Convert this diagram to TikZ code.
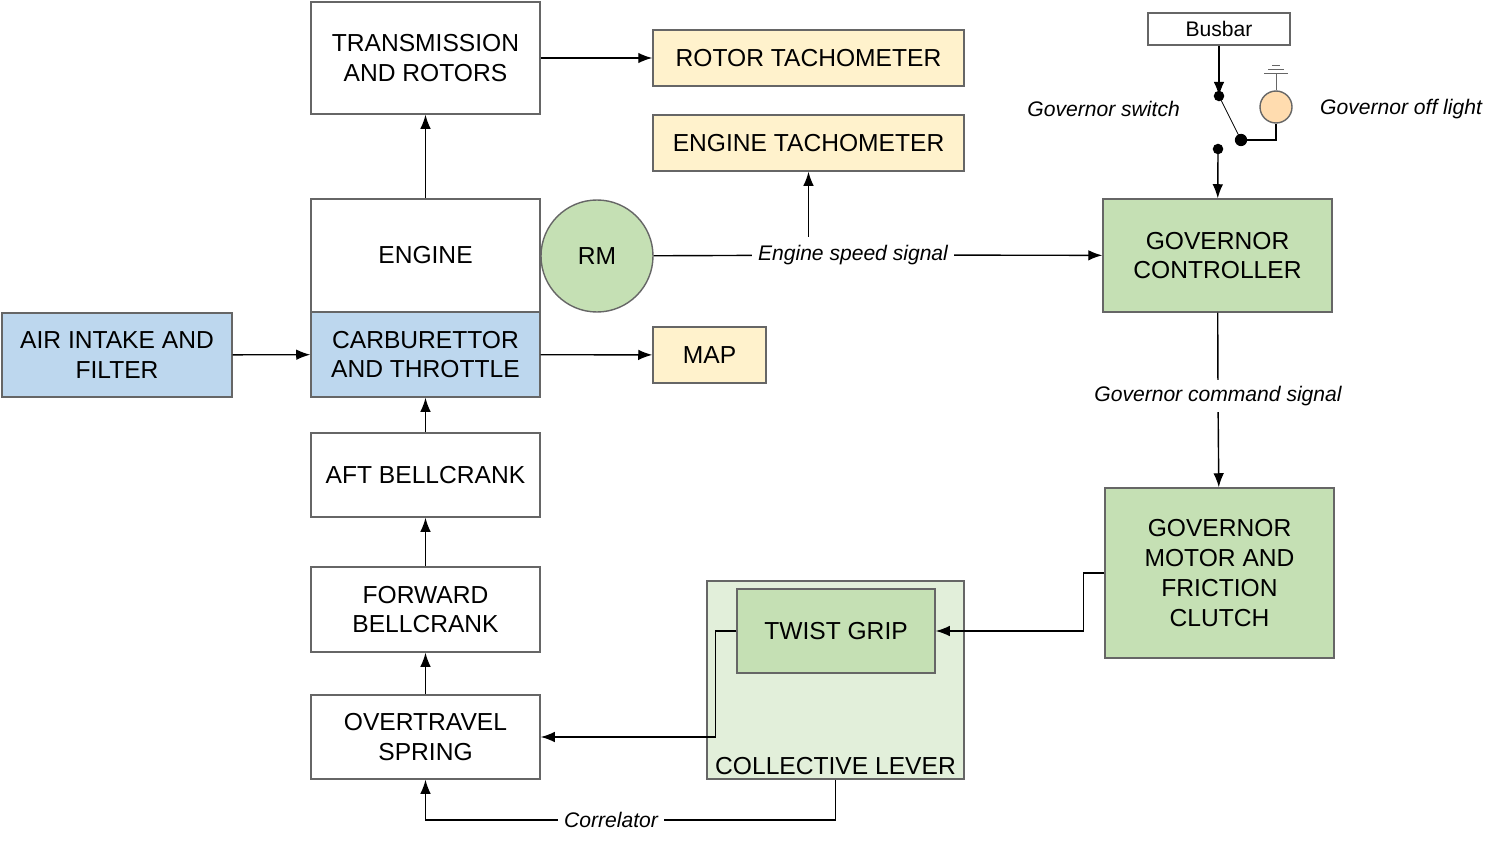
\documentclass[tikz,border=0pt]{standalone}
\usepackage{fontspec}
\setmainfont{Liberation Sans}
\usetikzlibrary{arrows.meta}
\begin{document}
\begin{tikzpicture}[x=0.02cm,y=-0.02cm,
    every node/.style={font=\fontsize{14}{17}\selectfont, align=center},
    box/.style={draw=black!60, thick, inner sep=0pt},
    sig/.style={font=\fontsize{12}{14}\selectfont\itshape},
    arr/.style={-{Latex[length=8pt,width=6pt]}, thick},
    ln/.style={thick}]

  % Define fill colours
  \definecolor{tachyel}{RGB}{255,242,204}
  \definecolor{govgreen}{RGB}{197,224,180}
  \definecolor{carbblue}{RGB}{189,215,238}
  \definecolor{levgreen}{RGB}{226,239,218}

  \useasboundingbox (0,0) rectangle (1494,851);

  % Engine column
  \node[box, minimum width=229*0.02cm, minimum height=112*0.02cm] (trans) at (425.5,58) {TRANSMISSION\\AND ROTORS};
  \node[box, minimum width=229*0.02cm, minimum height=113*0.02cm] (engine) at (425.5,255.5) {ENGINE};
  \node[box, fill=carbblue, minimum width=229*0.02cm, minimum height=85*0.02cm] (carb) at (425.5,354.5) {CARBURETTOR\\AND THROTTLE};
  \node[box, fill=carbblue, minimum width=230*0.02cm, minimum height=84*0.02cm] (air) at (117,355) {AIR INTAKE AND\\FILTER};
  \node[box, minimum width=229*0.02cm, minimum height=84*0.02cm] (aft) at (425.5,475) {AFT BELLCRANK};
  \node[box, minimum width=229*0.02cm, minimum height=85*0.02cm] (fwd) at (425.5,609.5) {FORWARD\\BELLCRANK};
  \node[box, minimum width=229*0.02cm, minimum height=84*0.02cm] (spring) at (425.5,737) {OVERTRAVEL\\SPRING};

  % Gauges
  \node[box, fill=tachyel, minimum width=311*0.02cm, minimum height=56*0.02cm] (rotortach) at (808.5,58) {ROTOR TACHOMETER};
  \node[box, fill=tachyel, minimum width=311*0.02cm, minimum height=56*0.02cm] (enginetach) at (808.5,143) {ENGINE TACHOMETER};
  \node[box, fill=tachyel, minimum width=113*0.02cm, minimum height=56*0.02cm] (map) at (709.5,355) {MAP};
  \node[box, circle, fill=govgreen, minimum size=112*0.02cm] (rm) at (597,256) {RM};

  % Collective lever
  \node[box, fill=levgreen, minimum width=257*0.02cm, minimum height=198*0.02cm] (lever) at (835.5,680) {};
  \node[anchor=south] (leverlabel) at (835.5,781) {COLLECTIVE LEVER};
  \node[box, fill=govgreen, minimum width=198*0.02cm, minimum height=84*0.02cm] (grip) at (836,631) {TWIST GRIP};

  % Governor
  \node[box, fill=govgreen, minimum width=229*0.02cm, minimum height=113*0.02cm] (govctrl) at (1217.5,255.5) {GOVERNOR\\CONTROLLER};
  \node[box, fill=govgreen, minimum width=229*0.02cm, minimum height=170*0.02cm] (govmotor) at (1219.5,573) {GOVERNOR\\MOTOR AND\\FRICTION\\CLUTCH};
  \node[box, minimum width=142*0.02cm, minimum height=32*0.02cm, font=\fontsize{12}{14}\selectfont] (busbar) at (1219,29) {Busbar};
  \node[box, circle, fill=tachyel!60!orange!60, minimum size=32*0.02cm] (lamp) at (1276,107) {};

  % Signal labels
  \node[sig] (speedsig) at (853,255) {Engine speed signal};
  \node[sig] (cmdsig) at (1218,396) {Governor command signal};
  \node[sig] (correlator) at (611,820) {Correlator};
  \node[sig, anchor=east] (swlabel) at (1186,109) {Governor switch};
  \node[sig, anchor=west] (lamplabel) at (1314,109) {Governor off light};

  % Switch points
  \coordinate (swin) at (1219,96);
  \coordinate (swout) at (1241,140);
  \coordinate (swlow) at (1218,149);
  \coordinate (gnd) at (1276,73);

  % Connectors
  \draw[arr] (trans) -- (rotortach);
  \draw[arr] (engine) -- (trans);
  \draw[arr] (air) -- (carb);
  \draw[arr] (carb) -- (map);
  \draw[arr] (aft) -- (carb);
  \draw[arr] (fwd) -- (aft);
  \draw[arr] (spring) -- (fwd);
  \draw[ln] (rm) -- (speedsig);
  \draw[arr] (speedsig.north -| enginetach) ++(0,-2) -- (enginetach);
  \draw[arr] (speedsig) -- (govctrl);
  \draw[ln] (govctrl) -- (cmdsig);
  \draw[arr] (cmdsig) -- (govmotor);
  \draw[arr] (govmotor.west) -- ++(-21,0) |- (grip.east);
  \draw[arr] (grip.west) -- ++(-21,0) |- (spring.east);
  \draw[ln] (lever.south) |- (correlator.east);
  \draw[arr] (correlator.west) -| (spring.south);

  % Governor switch and light
  \draw[arr] (busbar) -- (swin);
  \fill (swin) circle (3pt) (swout) circle (3.5pt) (swlow) circle (3pt);
  \draw (swin) -- (swout);
  \draw[ln] (swout) -| (lamp.south);
  \draw[arr] (swlow) -- (govctrl);
  \draw[black!60] (lamp.north) -- (gnd);
  \draw[black!60] (1264,73) -- (1288,73) (1268,69) -- (1284,69) (1272,65) -- (1280,65);
\end{tikzpicture}
\end{document}
